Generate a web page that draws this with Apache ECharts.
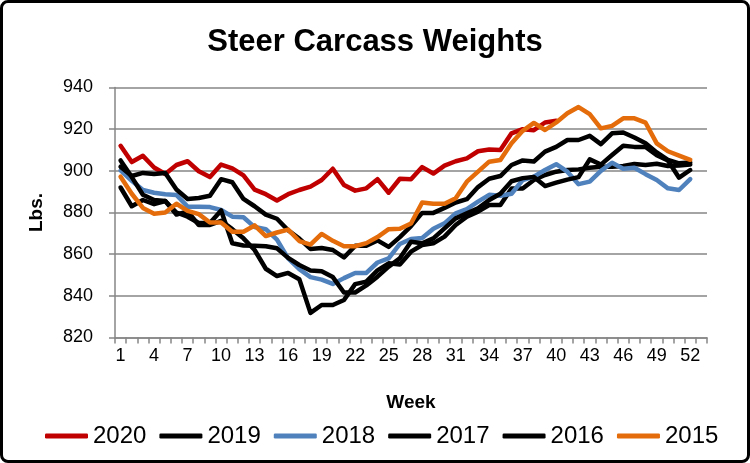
<!DOCTYPE html>
<html>
<head>
<meta charset="utf-8">
<script src="https://cdn.jsdelivr.net/npm/echarts@6/dist/echarts.min.js"></script>
<style>
html,body{margin:0;padding:0;background:#fff;}
#wrap{position:absolute;left:0;top:0;width:750px;height:463px;box-sizing:border-box;border:3px solid #000;border-radius:8px;background:#fff;}
#chart{position:absolute;left:0;top:0;width:750px;height:463px;}
</style>
</head>
<body>
<div id="wrap"></div>
<div id="chart"></div>
<script>
const weeks = ['1','2','3','4','5','6','7','8','9','10','11','12','13','14','15','16','17','18','19','20','21','22','23','24','25','26','27','28','29','30','31','32','33','34','35','36','37','38','39','40','41','42','43','44','45','46','47','48','49','50','51','52','53'];
const seriesNames = ['2020','2019','2018','2017','2016','2015'];
const seriesColors = ['#C00000','#000000','#4F81BD','#000000','#000000','#E46C0A'];

const s2020 = [912,904.2,907.2,901.6,898.5,902.8,904.6,899.8,897,903,
  901.2,897.8,891,888.8,885.8,888.8,890.8,892.4,895.6,901,
  893.2,890.5,891.6,896,889.5,896.2,896,901.8,898.7,902.5,
  904.6,906,909.4,910.2,910,918,920,919.5,923.2,924];
const s2019 = [892,883,886,884,885.5,879,880.5,874,874,876,
  872,867.6,862,853,849.5,851,848,831.8,835.6,835.6,
  838,845.6,846.8,852.2,855.6,855,861.2,864.4,865.2,868.4,
  874,878,880.4,883.6,883.6,891.5,891.5,895.6,898,899.6,
  900.4,900.7,901.5,902,902,902.3,903.3,902.8,903.4,902.3,
  902.5,903];
const s2018 = [900.2,895.2,890.8,889.5,888.8,888.4,882.8,882.8,882.6,881.2,
  878,877.7,873,872,867,858,852.8,849,847.8,845.7,
  848.5,851,851,856,858,864.9,867.3,867.8,872.2,874.8,
  879.6,881.6,885.2,888.5,888,889,895.6,897.2,900.4,903.2,
  899.6,893.6,894.8,900,903.9,901,901.5,898.4,895.6,891.6,
  890.8,896];
const s2017 = [905,897,888.5,886,885.5,880,878,875,875,881,
  865.2,864.2,864,863.8,862.8,858.2,854.8,852.2,851.8,849,
  841.6,841.6,845,849.2,854,858,866,865.2,867.6,872.4,
  877.2,879.6,882,886,889,895,896.5,897,892.7,894.3,
  895.8,897,905.5,903,907.6,912,911.5,911.5,907.5,905,
  896.7,900.4];
const s2016 = [902,897.5,899,898.5,899,891,886.5,887,888,896,
  894.5,886.5,883,879,877,871.5,867.5,862.5,863,862,
  858.4,864,864,866.6,863.5,868.2,873.5,879.8,879.8,882.2,
  884.8,886.4,892.2,896.2,897.5,902.8,905,904.5,909.2,911.5,
  914.8,914.8,916.8,912.8,918,918.4,916,913.2,908.8,905.3,
  903.6,904];
const s2015 = [897.2,889,882.2,879.4,880,884.2,880.8,879.2,875.2,875.2,
  870.8,870.8,873.8,868.7,870.4,871.8,866.3,864.6,869.7,866.4,
  863.8,863.8,865.3,868.2,872,872.2,874.7,884.8,884.2,884.2,
  886.8,894.8,899.6,904.4,905.2,913.2,919.2,923,919.6,923.2,
  927.6,930.6,927.2,920.4,921.6,925.2,925.2,923.1,913.2,909.4,
  907.3,905.3];
const yTicks = [820,840,860,880,900,920,940];

const allData = [s2020,s2019,s2018,s2017,s2016,s2015];
const FONT = 'Liberation Sans, Arial, sans-serif';
const chart = echarts.init(document.getElementById('chart'), null, {renderer:'canvas'});
chart.setOption({
  animation:false,
  backgroundColor:'transparent',
  title:{text:'Steer Carcass Weights',left:'center',top:22,
    textStyle:{fontFamily:FONT,fontWeight:'bold',fontSize:31,color:'#000'}},
  legend:{left:40,top:419,itemWidth:43,itemHeight:5,itemGap:13,icon:'roundRect',
    textStyle:{fontFamily:FONT,fontSize:24,color:'#000'},
    data:seriesNames.map((n,i)=>({name:n,itemStyle:{color:seriesColors[i]}}))},
  grid:{left:115,right:43,top:87.5,bottom:125.5,containLabel:false,outerBoundsMode:'none'},
  xAxis:{type:'category',data:weeks,boundaryGap:true,
    name:'Week',nameLocation:'middle',nameGap:56,
    nameTextStyle:{fontFamily:FONT,fontWeight:'bold',fontSize:19,color:'#000'},
    axisLine:{lineStyle:{color:'#868686',width:1.5}},
    axisTick:{show:true,interval:0,length:6,lineStyle:{color:'#868686',width:1.5}},
    axisLabel:{interval:2,margin:10,fontFamily:FONT,fontSize:18,color:'#000'},
    splitLine:{show:false}},
  yAxis:{type:'value',min:yTicks[0],max:yTicks[yTicks.length-1],interval:20,
    name:'Lbs.',nameLocation:'middle',nameRotate:90,nameGap:69,
    nameTextStyle:{fontFamily:FONT,fontWeight:'bold',fontSize:19,color:'#000'},
    axisLine:{show:true,lineStyle:{color:'#868686',width:1.5}},
    axisTick:{show:true,length:6,lineStyle:{color:'#868686',width:1.5}},
    axisLabel:{margin:22,fontFamily:FONT,fontSize:18,color:'#000'},
    splitLine:{show:true,lineStyle:{color:'#868686',width:1.5}}},
  series:seriesNames.map((n,i)=>({
    name:n,type:'line',data:allData[i],symbol:'none',showSymbol:false,smooth:false,
    color:seriesColors[i],
    lineStyle:{color:seriesColors[i],width:4.5,join:'round',cap:'round'}
  }))
});
</script>
</body>
</html>
